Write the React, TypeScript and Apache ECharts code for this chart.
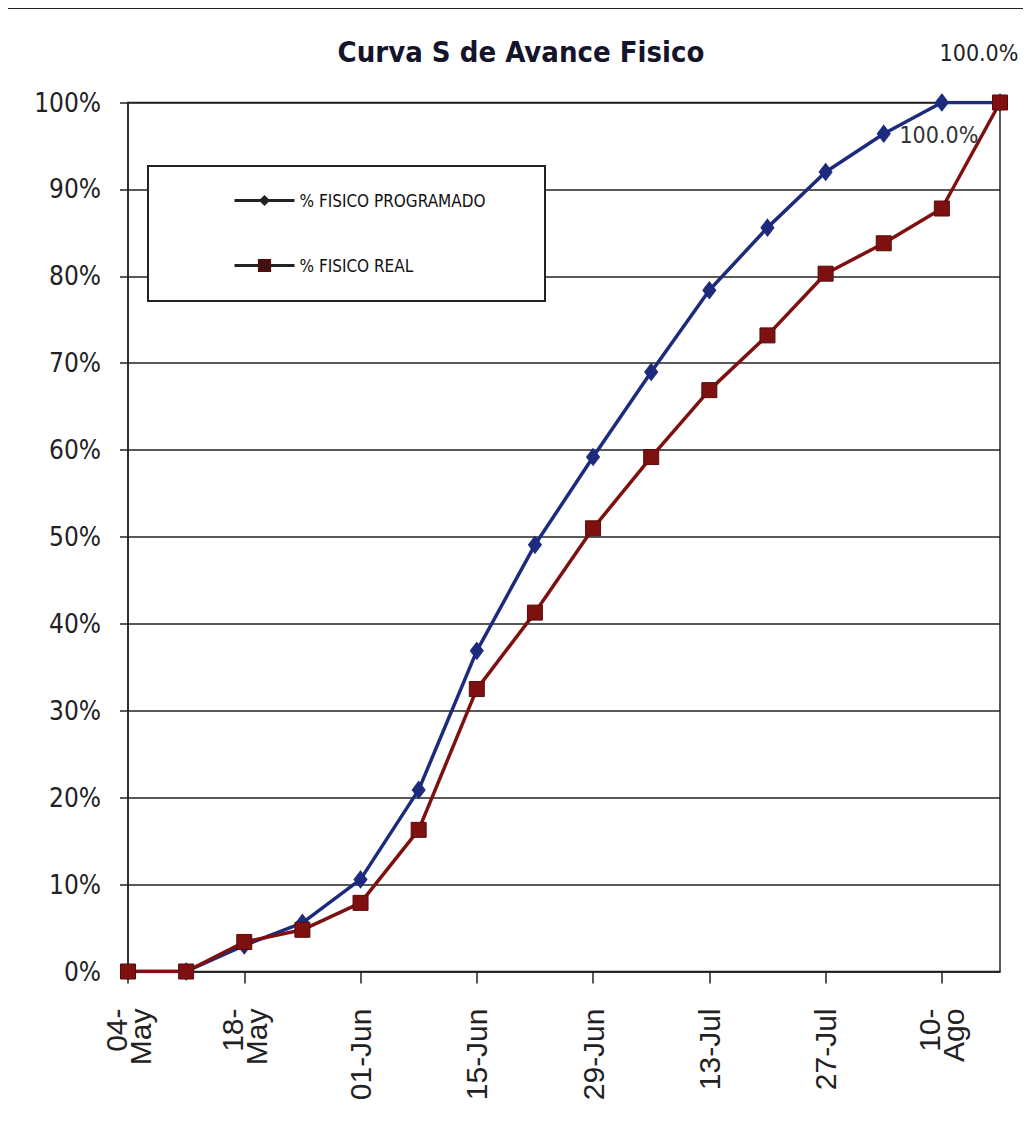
import React, { useEffect, useRef } from "react";
import * as echarts from "echarts";

const categories = [
  "04-May", "11-May", "18-May", "25-May", "01-Jun", "08-Jun", "15-Jun", "22-Jun",
  "29-Jun", "06-Jul", "13-Jul", "20-Jul", "27-Jul", "03-Ago", "10-Ago", "17-Ago",
];
const programado = [0, 0, 3.0, 5.6, 10.6, 20.9, 36.9, 49.1, 59.2, 69.0, 78.4, 85.6, 92.0, 96.4, 100, 100];
const real = [0, 0, 3.4, 4.8, 7.9, 16.3, 32.5, 41.3, 51.0, 59.2, 66.9, 73.2, 80.3, 83.8, 87.8, 100];
const yTicks = [0, 10, 20, 30, 40, 50, 60, 70, 80, 90, 100];

const TITLE = "Curva S de Avance Fisico";
const NAME_PROG = "% FISICO PROGRAMADO";
const NAME_REAL = "% FISICO REAL";

const NARROW = '"Liberation Sans Narrow", "Arial Narrow", "DejaVu Sans Condensed", sans-serif';
const REG = '"Liberation Sans", Arial, sans-serif';

export default function App() {
  const ref = useRef<HTMLDivElement>(null);
  useEffect(() => {
    if (!ref.current) return;
    const chart = echarts.init(ref.current, null, { renderer: "svg" });
    const BLUE = "#1e2a7c";
    const RED = "#7e1010";
    chart.setOption({
      animation: false,
      backgroundColor: "#ffffff",
      title: {
        text: TITLE,
        left: 516,
        top: 32,
        textAlign: "center",
        textStyle: { fontFamily: NARROW, fontSize: 29, fontWeight: "bold", color: "#14142a" },
      },
      graphic: [
        {
          type: "polyline",
          shape: { points: [[7, 1124], [7, 8], [1031, 8]] },
          style: { stroke: "#222", lineWidth: 2, fill: null },
          silent: true,
          z: 100,
        },
        {
          type: "rect",
          shape: { x: 148, y: 166, width: 397, height: 135 },
          style: { fill: "#ffffff", stroke: "#222", lineWidth: 2 },
          z: 50,
        },
      ],
      legend: {
        orient: "vertical",
        left: 228,
        top: 187,
        itemWidth: 60,
        itemHeight: 14,
        itemGap: 48,
        z: 60,
        textStyle: { fontFamily: NARROW, fontSize: 17, color: "#111" },
        data: [
          { name: NAME_PROG, itemStyle: { color: "#222" }, lineStyle: { color: "#222", width: 3 } },
          { name: NAME_REAL, itemStyle: { color: "#3a1414" }, lineStyle: { color: "#222", width: 3 } },
        ],
      },
      grid: {
        left: 128,
        right: 31,
        top: 102.5,
        bottom: 152.5,
        show: true,
        borderColor: "#222",
        borderWidth: 1.5,
        backgroundColor: "transparent",
      },
      xAxis: {
        type: "category",
        data: categories,
        boundaryGap: false,
        axisLine: { show: true, lineStyle: { color: "#222", width: 1.5 } },
        axisTick: { show: true, interval: 1, length: 12, lineStyle: { color: "#222", width: 1.5 } },
        axisLabel: {
          interval: 1,
          rotate: 90,
          margin: 37,
          fontFamily: REG,
          fontSize: 30,
          color: "#222",
          lineHeight: 24,
          formatter: (v: string) => (/May|Ago/.test(v) ? v.replace("-", "-\n") : v),
        },
        splitLine: { show: false },
      },
      yAxis: {
        type: "value",
        min: 0,
        max: 100,
        interval: 10,
        axisLine: { show: true, lineStyle: { color: "#222", width: 1.5 } },
        axisTick: { show: true, length: 8, lineStyle: { color: "#222", width: 1.5 } },
        axisLabel: {
          margin: 27,
          fontFamily: NARROW,
          fontSize: 26,
          color: "#222",
          formatter: (v: number) => (yTicks.includes(v) ? `${v}%` : ""),
        },
        splitLine: { show: true, lineStyle: { color: "#222", width: 1.5 } },
      },
      series: [
        {
          name: NAME_PROG,
          type: "line",
          data: programado.map((v, i) =>
            i === 14
              ? {
                  value: v,
                  label: {
                    show: true,
                    position: "bottom",
                    distance: 12,
                    offset: [-3, 0],
                    formatter: (p: any) => `${Number(p.value).toFixed(1)}%`,
                    fontFamily: NARROW,
                    fontSize: 23,
                    color: "#333",
                  },
                }
              : v
          ),
          symbol: "diamond",
          symbolSize: [13, 17],
          lineStyle: { color: BLUE, width: 3.5 },
          itemStyle: { color: BLUE, borderColor: BLUE },
          z: 3,
        },
        {
          name: NAME_REAL,
          type: "line",
          data: real.map((v, i) =>
            i === 15
              ? {
                  value: v,
                  label: {
                    show: true,
                    position: "top",
                    distance: 30,
                    offset: [-21, 0],
                    formatter: (p: any) => `${Number(p.value).toFixed(1)}%`,
                    fontFamily: NARROW,
                    fontSize: 23,
                    color: "#222",
                  },
                }
              : v
          ),
          symbol: "rect",
          symbolSize: 15,
          lineStyle: { color: RED, width: 3.5 },
          itemStyle: { color: RED, borderColor: "#5a0a0a", borderWidth: 1 },
          z: 4,
        },
      ],
    });
    return () => chart.dispose();
  }, []);
  return <div ref={ref} style={{ width: 1031, height: 1124, marginLeft: -8, marginTop: -8 }} />;
}
